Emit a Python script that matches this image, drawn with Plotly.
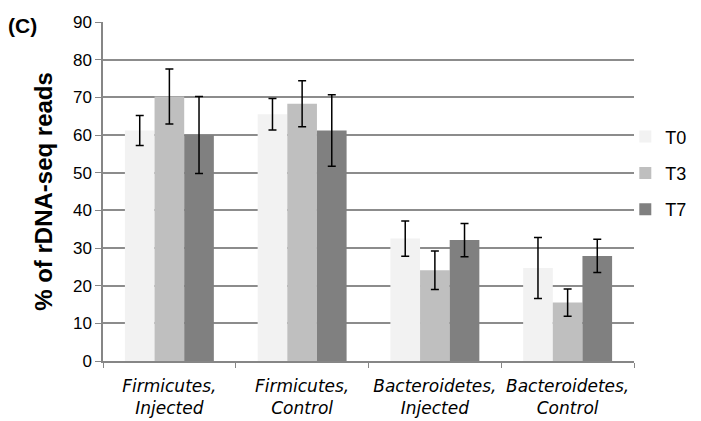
import plotly.graph_objects as go

categories = ["<i>Firmicutes,</i><br><i>Injected</i>", "<i>Firmicutes,</i><br><i>Control</i>",
              "<i>Bacteroidetes,</i><br><i>Injected</i>", "<i>Bacteroidetes,</i><br><i>Control</i>"]
series_names = ["T0", "T3", "T7"]
t0_values = [61.2, 65.5, 32.5, 24.7]
t0_errors = [4.0, 4.2, 4.7, 8.1]
t3_values = [70.2, 68.3, 24.1, 15.5]
t3_errors = [7.3, 6.1, 5.1, 3.6]
t7_values = [60.0, 61.2, 32.1, 27.9]
t7_errors = [10.2, 9.5, 4.4, 4.4]
colors = ["#f2f2f2", "#bfbfbf", "#808080"]

FONT = "Liberation Sans, Arial, sans-serif"
fig = go.Figure()
for i, (name, vals, errs) in enumerate(zip(series_names, [t0_values, t3_values, t7_values],
                                           [t0_errors, t3_errors, t7_errors])):
    fig.add_trace(go.Bar(
        x=categories, y=vals, name=name, legendgroup=name,
        marker=dict(color=colors[i], line=dict(width=0)),
        error_y=dict(type="data", array=errs, visible=True, color="black", thickness=1.5, width=4),
    ))

# page has an 8px body margin; figure coordinates = page coordinates - 8
W, H = 693, 413
L, T = 95, 13.7
R = W - 625.7
B = H - 353
pw = W - L - R
ph = H - T - B

fig.update_layout(
    width=W, height=H,
    margin=dict(l=L, r=R, t=T, b=B, autoexpand=False),
    paper_bgcolor="white", plot_bgcolor="white",
    barmode="group", bargap=0.33, bargroupgap=0,
    font=dict(family=FONT, size=17, color="black"),
    showlegend=True,
    legend=dict(x=(617 - L) / pw, xanchor="left", y=0.716, yanchor="top",
                font=dict(size=18, color="black"), traceorder="grouped",
                tracegroupgap=10, itemwidth=30, bgcolor="rgba(0,0,0,0)"),
    xaxis=dict(showline=True, linecolor="#868686", linewidth=1.5,
               ticks="outside", tickson="boundaries", ticklen=5, tickcolor="#868686",
               tickangle=0, automargin=False, ticklabelstandoff=9,
               tickfont=dict(family="DejaVu Sans", size=17, color="black"), showgrid=False),
    yaxis=dict(range=[0, 90], dtick=10, showline=True, linecolor="#868686", linewidth=1.5,
               ticks="outside", ticklen=6, tickcolor="#868686",
               showgrid=True, gridcolor="#8c8c8c", gridwidth=1.5, automargin=False,
               tickfont=dict(size=17, color="black"), zeroline=False,
               title=dict(text="<b>% of rDNA-seq reads</b>", font=dict(size=24, color="black"), standoff=14)),
    annotations=[dict(text="<b>(C)</b>", x=(15 - L) / pw, y=(353 - 17) / ph, xref="paper", yref="paper",
                      xanchor="center", yanchor="middle",
                      showarrow=False, font=dict(size=21, color="black"))],
)
fig.write_html("out.html")
